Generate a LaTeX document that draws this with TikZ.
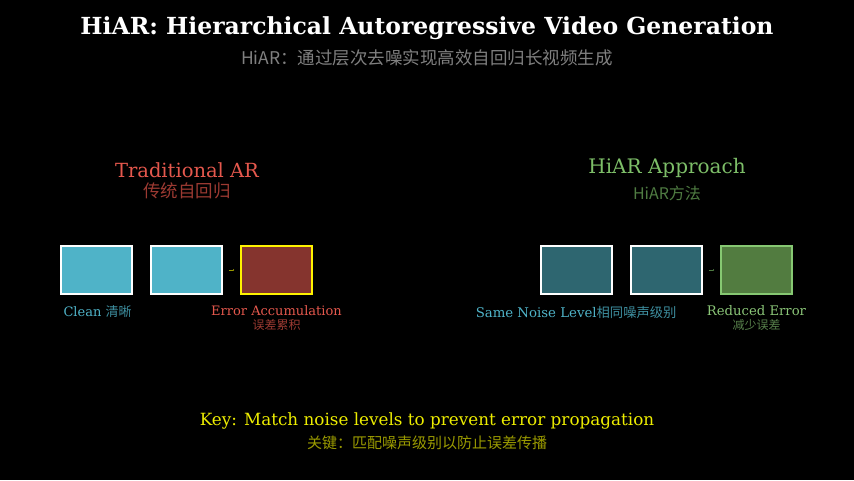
\documentclass[tikz,border=0pt]{standalone}
\usepackage{fontspec}
\setmainfont{DejaVu Serif}
\newfontfamily\cjk{Noto Sans CJK SC}
\usepackage{tikz}
\usetikzlibrary{arrows.meta}

\definecolor{bg}{HTML}{000000}
\definecolor{subgray}{HTML}{808080}
\definecolor{tradred}{HTML}{E5584D}
\definecolor{tradredcn}{HTML}{9C3A32}
\definecolor{hiargreen}{HTML}{7DBE68}
\definecolor{hiargreencn}{HTML}{4F7C42}
\definecolor{cleancyan}{HTML}{4FB3C8}
\definecolor{cleancyancn}{HTML}{3E8FA0}
\definecolor{errfill}{HTML}{85342E}
\definecolor{noisefill}{HTML}{2E6670}
\definecolor{goodfill}{HTML}{527C40}
\definecolor{goodborder}{HTML}{86C872}
\definecolor{goodtext}{HTML}{8BC678}
\definecolor{goodtextcn}{HTML}{567F4A}
\definecolor{keyyellow}{HTML}{EDED00}
\definecolor{keyolive}{HTML}{9A9A00}

\begin{document}
\begin{tikzpicture}[x=1pt,y=-1pt,
		frame/.style={draw=white,line width=1.6pt,minimum width=71pt,minimum height=48pt,inner sep=0pt},
		clean/.style={frame,fill=cleancyan},
		noisy/.style={frame,fill=noisefill},
		arr/.style={line width=0.8pt,shorten <=6pt,shorten >=6pt,-{Latex[length=1pt,width=2pt]}}]
		\fill[bg] (0,0) rectangle (854,480);
		\useasboundingbox (0,0) rectangle (854,480);
		% heading
		\node[white,font=\fontsize{23.5}{28}\selectfont\bfseries] (title) at (427,28) {HiAR: Hierarchical Autoregressive Video Generation};
		\node[subgray,font=\fontsize{17.5}{21}\selectfont\cjk] (subtitle) at (427,58) {HiAR：通过层次去噪实现高效自回归长视频生成};
		% traditional side
		\node[tradred,font=\fontsize{19.5}{23}\selectfont] (tradhead) at (187,170) {Traditional AR};
		\node[tradredcn,font=\fontsize{17.5}{21}\selectfont\cjk] (tradsub) at (187,191) {传统自回归};
		\node[clean] (t1) at (96.5,270) {};
		\node[clean] (t2) at (186.5,270) {};
		\node[frame,draw=yellow,fill=errfill] (t3) at (276.5,270) {};
		\draw[arr,draw=keyolive] (t2) -- (t3);
		\node[cleancyan,font=\fontsize{13}{15}\selectfont,anchor=west] (cleanlbl) at (60,312) {Clean {\cjk\color{cleancyancn}清晰}};
		\node[tradred,font=\fontsize{13}{15}\selectfont] (errlbl) at (276.5,311) {Error Accumulation};
		\node[tradredcn,font=\fontsize{12}{14}\selectfont\cjk] (errcn) at (276.5,325) {误差累积};
		% hiar side
		\node[hiargreen,font=\fontsize{20}{24}\selectfont] (hiarhead) at (667,168) {HiAR Approach};
		\node[hiargreencn,font=\fontsize{16}{19}\selectfont\cjk] (hiarsub) at (667,193) {HiAR方法};
		\node[noisy] (h1) at (576.5,270) {};
		\node[noisy] (h2) at (666.5,270) {};
		\node[frame,draw=goodborder,fill=goodfill] (h3) at (756.5,270) {};
		\draw[arr,draw=hiargreencn] (h2) -- (h3);
		\node[cleancyan,font=\fontsize{13.3}{16}\selectfont,anchor=east] (samelbl) at (680,312) {Same Noise Level{\cjk\color{cleancyancn}相同噪声级别}};
		\node[goodtext,font=\fontsize{13.2}{16}\selectfont] (redlbl) at (756.5,311) {Reduced Error};
		\node[goodtextcn,font=\fontsize{12}{14}\selectfont\cjk] (redcn) at (756.5,325) {减少误差};
		% key
		\node[keyyellow,font=\fontsize{16.8}{20}\selectfont] (key) at (427,421) {Key: Match noise levels to prevent error propagation};
		\node[keyolive,font=\fontsize{15}{18}\selectfont\cjk] (keycn) at (427,443) {关键：匹配噪声级别以防止误差传播};
\end{tikzpicture}
\end{document}
